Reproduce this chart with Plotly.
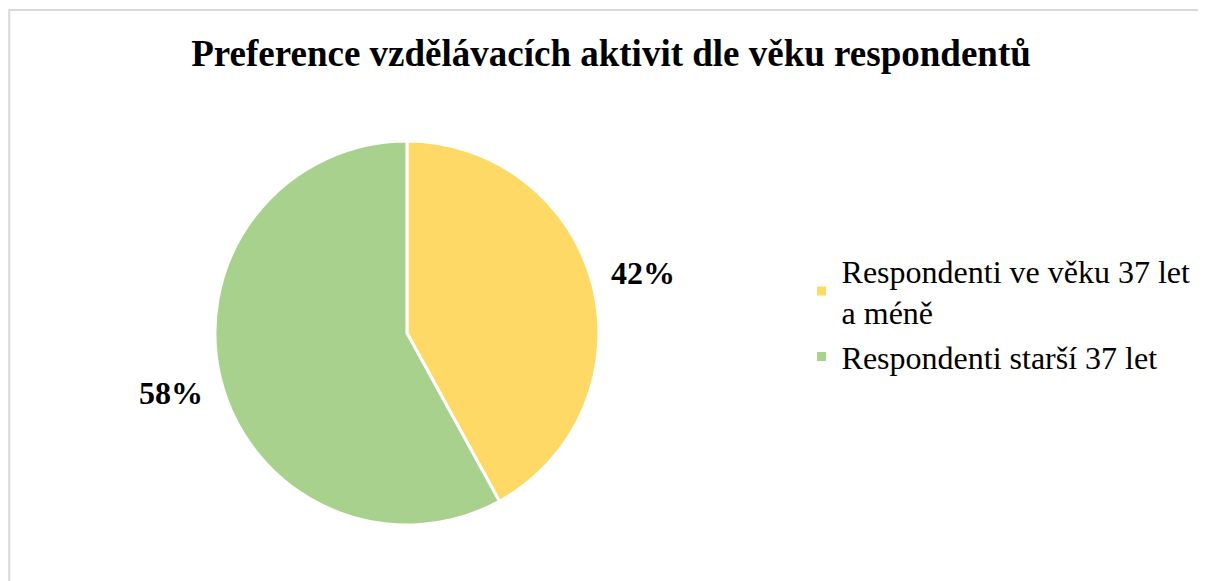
import math
import plotly.graph_objects as go

labels = ['Respondenti ve věku 37 let<br>a méně', 'Respondenti starší 37 let']
values = [42, 58]
colors = ['#FFD966', '#A9D18E']

W, H = 1206, 581
dom_x = [0.1716, 0.4900]
dom_y = [0.1102, 0.7711]

fig = go.Figure()
fig.add_trace(go.Pie(
    labels=labels,
    values=values,
    sort=False,
    direction='clockwise',
    rotation=0,
    marker=dict(colors=colors, line=dict(color='white', width=3)),
    textinfo='none',
    domain=dict(x=dom_x, y=dom_y),
))

# percentage labels placed outside, along each slice's middle angle
cx = (dom_x[0] + dom_x[1]) / 2 * W
cy = (dom_y[0] + dom_y[1]) / 2 * H
r = min((dom_x[1] - dom_x[0]) * W, (dom_y[1] - dom_y[0]) * H) / 2
total = sum(values)
start = 0
for v in values:
    mid = (start + v / 2) / total * 2 * math.pi
    start += v
    px_ = cx + 1.27 * r * math.sin(mid)
    py_ = cy + 1.25 * r * math.cos(mid)
    fig.add_annotation(x=px_ / W, y=py_ / H, xref='paper', yref='paper',
                       xanchor='center', yanchor='middle',
                       text='<b>%d%%</b>' % round(v / total * 100), showarrow=False,
                       font=dict(family='Liberation Serif', size=32, color='black'))

# chart area border
fig.add_shape(type='rect', xref='paper', yref='paper',
              x0=0.001, x1=1.1, y0=-0.1, y1=0.9966,
              line=dict(color='#D9D9D9', width=2))

fig.update_layout(
    width=W, height=H,
    margin=dict(l=0, r=0, t=0, b=0),
    paper_bgcolor='white',
    plot_bgcolor='white',
    title=dict(text='<b>Preference vzdělávacích aktivit dle věku respondentů</b>',
               x=0.5, xanchor='center', y=0.9225, yanchor='middle',
               font=dict(family='Liberation Serif', size=37, color='black')),
    legend=dict(x=0.658, y=0.5955, xanchor='left', yanchor='top',
                font=dict(family='Liberation Serif', size=32, color='black'),
                itemwidth=30),
    showlegend=True,
)

fig.write_html('out.html')
